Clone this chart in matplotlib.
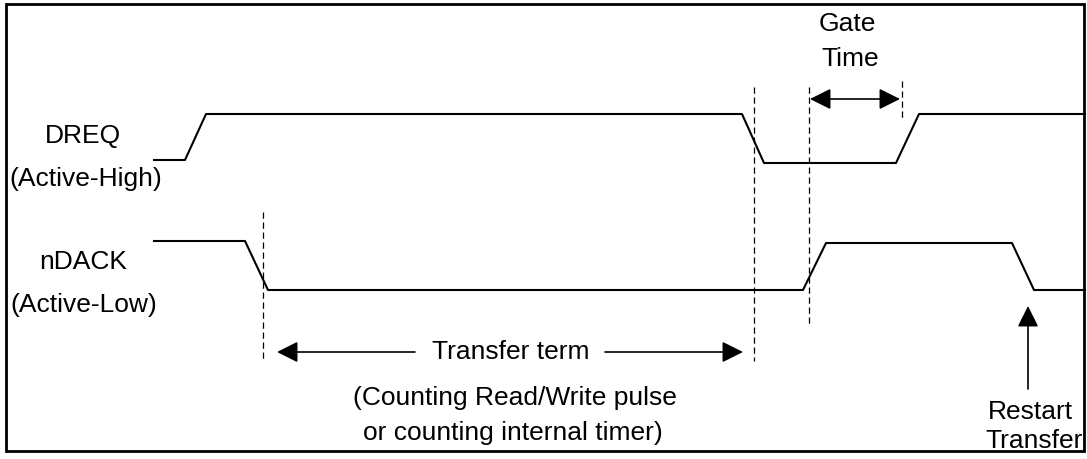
import matplotlib
matplotlib.use("Agg")
import matplotlib.pyplot as plt
from matplotlib.patches import Rectangle

plt.rcParams['font.family'] = ['Liberation Sans', 'DejaVu Sans']

# waveforms, in picture pixels (y grows downward)
dreq_x = [154, 185, 206, 742, 764, 896, 919, 1085]
dreq_y = [161, 161, 115, 115, 164, 164, 115, 115]
ndack_x = [154, 245, 268, 803, 826, 1012, 1034, 1085]
ndack_y = [242, 242, 291, 291, 244, 244, 291, 291]

# dashed marker lines: x, top, bottom
marks_x = [263, 754, 809, 902]
marks_top = [213, 88, 88, 82]
marks_bot = [360, 362, 328, 120]

signal_labels = ["DREQ", "(Active-High)", "nDACK", "(Active-Low)"]
signal_lab_x = [83, 86, 83, 84]
signal_lab_y = [136, 179, 262, 305]

fig = plt.figure(figsize=(10.87, 4.60), dpi=100)
ax = fig.add_axes([0, 0, 1, 1])
ax.set_xlim(0, 1087)
ax.set_ylim(460, 0)
ax.axis('off')

ax.add_patch(Rectangle((6, 5), 1078, 447, fill=False, lw=2, ec='black'))

ax.plot(dreq_x, dreq_y, color='black', lw=1.5)
ax.plot(ndack_x, ndack_y, color='black', lw=1.5)

for x, t, b in zip(marks_x, marks_top, marks_bot):
    ax.plot([x, x], [t, b], color='black', lw=0.9, dashes=(5, 3))

fs = 19
for s, x, y in zip(signal_labels, signal_lab_x, signal_lab_y):
    ax.text(x, y, s, ha='center', va='center', fontsize=fs)

arrow = dict(arrowstyle='-|>', color='black', lw=1.2, mutation_scale=32,
             shrinkA=0, shrinkB=0)
both = dict(arrowstyle='<|-|>', color='black', lw=1.2, mutation_scale=32,
            shrinkA=0, shrinkB=0)

# gate time
ax.text(847, 24, "Gate", ha='center', va='center', fontsize=fs)
ax.text(850, 59, "Time", ha='center', va='center', fontsize=fs)
ax.annotate("", xy=(900, 100), xytext=(810, 100), arrowprops=both)

# transfer term
ax.text(511, 352, "Transfer term", ha='center', va='center', fontsize=fs)
ax.annotate("", xy=(277, 353), xytext=(415, 353), arrowprops=arrow)
ax.annotate("", xy=(743, 353), xytext=(605, 353), arrowprops=arrow)
ax.text(515, 398, "(Counting Read/Write pulse", ha='center', va='center', fontsize=fs)
ax.text(513, 433, "or counting internal timer)", ha='center', va='center', fontsize=fs)

# restart
ax.annotate("", xy=(1028, 307), xytext=(1028, 390), arrowprops=arrow)
ax.text(1030, 412, "Restart", ha='center', va='center', fontsize=fs)
ax.text(1034, 441, "Transfer", ha='center', va='center', fontsize=fs)

fig.savefig("out.png", dpi=100)
